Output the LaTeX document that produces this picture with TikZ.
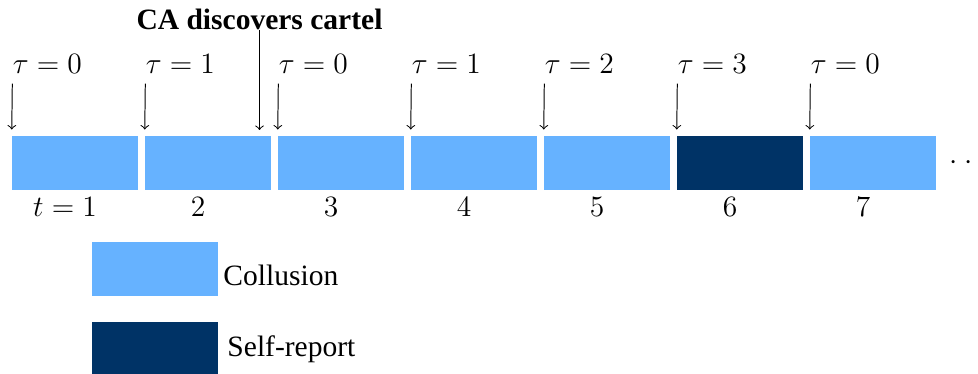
\documentclass[tikz,border=0pt]{standalone}
\usepackage{fontspec}
\setmainfont{Liberation Serif}
\definecolor{colluC}{HTML}{66B2FF}
\definecolor{reportC}{HTML}{003366}
\begin{document}
\begin{tikzpicture}[x=0.4065pt,y=-0.4065pt,
  font=\fontsize{12}{14.5}\selectfont,
  period/.style={fill=colluC, draw=none, inner sep=0, minimum width=51pt, minimum height=21.95pt},
  report/.style={period, fill=reportC},
  taulbl/.style={inner sep=0, anchor=base west},
  numlbl/.style={inner sep=0, anchor=base},
  legtxt/.style={inner sep=0, anchor=base west},
  marker/.style={->, line width=0.4pt}]
\useasboundingbox (0,0) rectangle (978,374);
% periods
\node[period] (b1) at (75,163) {};
\node[period] (b2) at (208,163) {};
\node[period] (b3) at (341,163) {};
\node[period] (b4) at (474,163) {};
\node[period] (b5) at (607,163) {};
\node[report] (b6) at (740,163) {};
\node[period] (b7) at (873,163) {};
\node[inner sep=0, anchor=base west] (dots) at (949,169.4) {$\cdot\cdot\cdot$};
% tau labels
\node[taulbl] (t1) at (12.3,73.5) {$\tau=0$};
\node[taulbl] (t2) at (145.3,73.5) {$\tau=1$};
\node[taulbl] (t3) at (278.3,73.5) {$\tau=0$};
\node[taulbl] (t4) at (411.3,73.5) {$\tau=1$};
\node[taulbl] (t5) at (544.3,73.5) {$\tau=2$};
\node[taulbl] (t6) at (677.3,73.5) {$\tau=3$};
\node[taulbl] (t7) at (810.3,73.5) {$\tau=0$};
\foreach \i in {1,...,7}{
  \draw[marker] ([yshift=-3.9pt]t\i.south west) -- ([yshift=2.44pt]b\i.north west);
}
% CA discovers cartel
\node[inner sep=0, anchor=south] (ca) at (259.5,29.8) {\bfseries CA discovers cartel};
\coordinate (caend) at (259.5,130);
\draw[marker] (ca.south) -- (caend);
% period numbers
\node[numlbl] (n1) at (65,217) {$t=1$};
\node[numlbl] (n2) at (198,217) {$2$};
\node[numlbl] (n3) at (331,217) {$3$};
\node[numlbl] (n4) at (464,217) {$4$};
\node[numlbl] (n5) at (597,217) {$5$};
\node[numlbl] (n6) at (730,217) {$6$};
\node[numlbl] (n7) at (863,217) {$7$};
% legend
\node[period] (l1) at (155,269) {};
\node[report] (l2) at (155,349) {};
\node[legtxt] (lt1) at (223,285.7) {Collusion};
\node[legtxt] (lt2) at (227,357) {Self-report};
\end{tikzpicture}
\end{document}
